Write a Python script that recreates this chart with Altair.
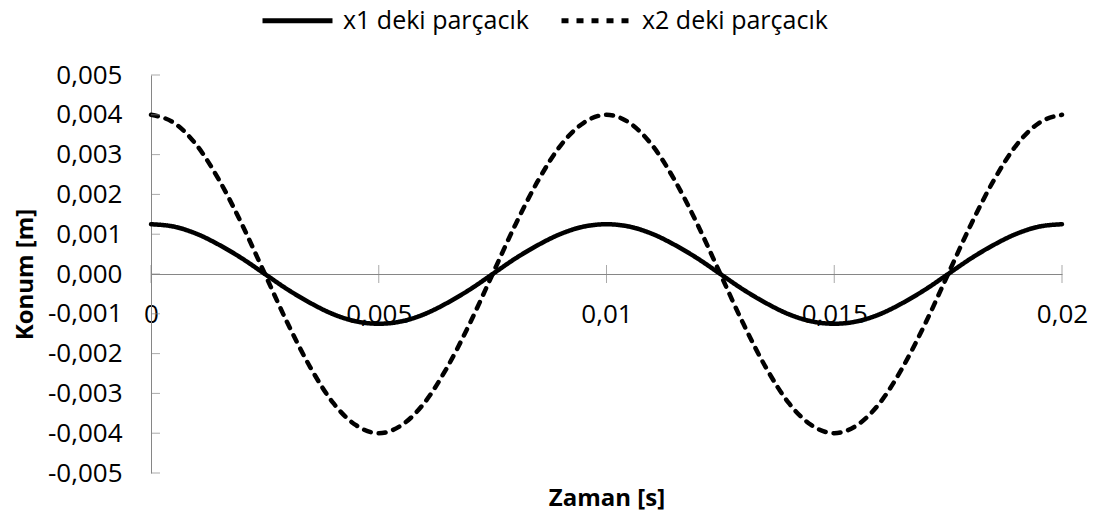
import altair as alt
import pandas as pd

# Time samples [s]
t = [0.0, 0.0005, 0.001, 0.0015, 0.002, 0.0025, 0.003, 0.0035, 0.004, 0.0045,
     0.005, 0.0055, 0.006, 0.0065, 0.007, 0.0075, 0.008, 0.0085, 0.009, 0.0095,
     0.01, 0.0105, 0.011, 0.0115, 0.012, 0.0125, 0.013, 0.0135, 0.014, 0.0145,
     0.015, 0.0155, 0.016, 0.0165, 0.017, 0.0175, 0.018, 0.0185, 0.019, 0.0195,
     0.02]

# Position of the particle at x1 [m]
x1 = [0.00125, 0.00119, 0.00101, 0.00073, 0.00039, 0.0, -0.00039, -0.00073, -0.00101, -0.00119,
      -0.00125, -0.00119, -0.00101, -0.00073, -0.00039, 0.0, 0.00039, 0.00073, 0.00101, 0.00119,
      0.00125, 0.00119, 0.00101, 0.00073, 0.00039, 0.0, -0.00039, -0.00073, -0.00101, -0.00119,
      -0.00125, -0.00119, -0.00101, -0.00073, -0.00039, 0.0, 0.00039, 0.00073, 0.00101, 0.00119,
      0.00125]

# Position of the particle at x2 [m]
x2 = [0.004, 0.0038, 0.00324, 0.00235, 0.00124, 0.0, -0.00124, -0.00235, -0.00324, -0.0038,
      -0.004, -0.0038, -0.00324, -0.00235, -0.00124, 0.0, 0.00124, 0.00235, 0.00324, 0.0038,
      0.004, 0.0038, 0.00324, 0.00235, 0.00124, 0.0, -0.00124, -0.00235, -0.00324, -0.0038,
      -0.004, -0.0038, -0.00324, -0.00235, -0.00124, 0.0, 0.00124, 0.00235, 0.00324, 0.0038,
      0.004]

series = ["x1 deki parçacık", "x2 deki parçacık"]
x_ticks = [0, 0.005, 0.01, 0.015, 0.02]
y_ticks = [-0.005, -0.004, -0.003, -0.002, -0.001, 0, 0.001, 0.002, 0.003, 0.004, 0.005]

df = pd.DataFrame({
    "t": t + t,
    "v": x1 + x2,
    "s": [series[0]] * len(t) + [series[1]] * len(t),
})
xt_df = pd.DataFrame({"t": x_ticks, "v": [0] * len(x_ticks)})
yt_df = pd.DataFrame({"t": [0] * len(y_ticks), "v": y_ticks})

W, H = 911, 398
FONT = "Open Sans"
AXIS_GRAY = "#868686"

x_scale = alt.Scale(domain=[0, 0.02], nice=False, zero=False)
y_scale = alt.Scale(domain=[-0.005, 0.005], nice=False)

x_axis = alt.Axis(
    values=x_ticks, offset=-H / 2, ticks=False, grid=False,
    domainColor=AXIS_GRAY, domainWidth=1,
    labelExpr="replace(format(datum.value, '~g'), '.', ',')",
    labelPadding=27, labelFontSize=26, labelFont=FONT, labelColor="black",
    labelOverlap=False, labelFlush=False,
    title="Zaman [s]", titleX=W / 2, titleY=224, titleAlign="center",
    titleBaseline="middle", titleFont=FONT, titleFontSize=24,
    titleFontWeight="bold", titleColor="black",
)
y_axis = alt.Axis(
    values=y_ticks, ticks=False, grid=False,
    domainColor=AXIS_GRAY, domainWidth=1,
    labelExpr="(datum.value < 0 ? '-' : '') + replace(format(abs(datum.value), '.3f'), '.', ',')",
    labelPadding=29, labelFontSize=26, labelFont=FONT, labelColor="black",
    labelOverlap=False, labelFlush=False,
    title="Konum [m]", titleX=-126, titleY=H / 2, titleAngle=270,
    titleAlign="center", titleBaseline="middle", titleFont=FONT,
    titleFontSize=24, titleFontWeight="bold", titleColor="black",
)

x_enc = alt.X("t:Q", scale=x_scale, axis=x_axis)
y_enc = alt.Y("v:Q", scale=y_scale, axis=y_axis)

lines = alt.Chart(df).mark_line(
    strokeWidth=4.5, strokeCap="round", strokeJoin="round",
    interpolate="monotone", color="black",
).encode(
    x=x_enc,
    y=y_enc,
    strokeDash=alt.StrokeDash(
        "s:N",
        scale=alt.Scale(domain=series, range=[[1, 0], [7, 8]]),
        legend=alt.Legend(
            title=None, orient="none", legendX=109, legendY=-92,
            direction="horizontal", symbolType="stroke", symbolSize=4900,
            symbolStrokeWidth=5, symbolStrokeColor="black",
            labelFont=FONT, labelFontSize=25, labelColor="black",
            labelOffset=8, columnPadding=22, labelLimit=400,
        ),
    ),
)

# Tick marks crossing the horizontal axis at y = 0
x_tick_marks = alt.Chart(xt_df).mark_tick(
    orient="vertical", size=18, thickness=1, color=AXIS_GRAY,
).encode(x=x_enc, y=y_enc)

# Tick marks pointing inward from the vertical axis
y_tick_marks = alt.Chart(yt_df).mark_tick(
    orient="horizontal", size=9, thickness=1, color=AXIS_GRAY, xOffset=4.5,
).encode(x=x_enc, y=y_enc)

chart = alt.layer(lines, x_tick_marks, y_tick_marks).properties(
    width=W, height=H,
    autosize=alt.AutoSizeParams(type="none"),
    padding={"left": 151, "top": 75, "right": 40, "bottom": 44},
    background="white",
).configure_view(strokeWidth=0)

chart.save("out.html", embed_options={"renderer": "svg", "actions": False})
